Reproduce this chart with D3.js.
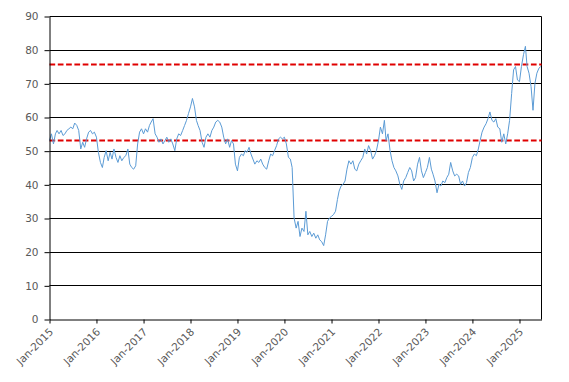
<!DOCTYPE html>
<html>
<head>
<meta charset="utf-8">
<script src="https://cdn.jsdelivr.net/npm/d3@7"></script>
<style>
  body { margin: 0; background: #fff; }
  text { font-family: "DejaVu Sans", Verdana, sans-serif; }
</style>
</head>
<body>
<script>
// half-month readings (1st and 16th of each month)
var v2015 = [53, 55, 52, 55, 56, 55, 56, 54.5, 55, 56, 56.5, 57, 56.5, 58.2, 57.5, 56, 50.5, 52.5, 51, 53.5, 55.5, 56, 55, 55.5];
var v2016 = [54, 49.5, 46.5, 45, 48, 50, 47, 49.5, 47.5, 50.5, 48, 46.5, 48.5, 47, 48, 48.5, 50.5, 46, 45, 44.5, 45.5, 52, 55.5, 56.5];
var v2017 = [55, 56.5, 55.5, 57.5, 58.5, 59.5, 55, 54, 52.5, 53.5, 52, 53, 54, 52.5, 53.5, 52, 50, 53.5, 55, 54.5, 56, 57.5, 59, 61];
var v2018 = [63, 65.5, 63, 59, 57.5, 56, 52.5, 51, 54, 55, 54, 56, 57, 58.5, 59, 58.5, 57, 54, 52, 53.5, 51, 53, 52, 46];
var v2019 = [44, 48, 49, 48.5, 50, 49.5, 51, 49, 47.5, 46, 47, 46.5, 47.5, 46, 45, 44.5, 47, 49, 48.5, 50, 51.5, 53.5, 54, 53.5];
var v2020 = [54, 52, 48, 47.5, 45, 30, 27, 29, 24.5, 27, 26, 32, 25, 26, 24.5, 25.5, 24, 25, 23.5, 23, 21.8, 25, 29, 30];
var v2021 = [30.5, 31, 32, 35.5, 38, 39.5, 40, 41, 44.5, 47, 46, 47, 44.5, 44, 46, 47, 48, 50.5, 49, 51.5, 50, 47.5, 48.5, 50];
var v2022 = [53, 57, 55, 59, 53, 55, 50, 47, 45, 44, 42.5, 40, 38.5, 41, 42, 43.5, 45, 44, 41, 42, 46, 48, 44, 42];
var v2023 = [43.5, 45, 48, 44.5, 43, 41, 37.5, 40, 39.5, 41, 40.5, 42, 43, 46.5, 44, 42.5, 43, 42.5, 40, 41, 39.5, 40.5, 43.5, 45];
var v2024 = [48, 49, 48.5, 50.5, 53, 55.5, 57, 58, 59.5, 61.5, 59, 58.5, 59.5, 57, 56.5, 52.5, 55, 52, 55, 59, 67, 74, 75, 71];
var v2025 = [70.5, 75, 78.5, 81, 75, 73, 69, 62, 70, 73, 74.5, 75];

var years = [2015, 2016, 2017, 2018, 2019, 2020, 2021, 2022, 2023, 2024, 2025];
var yearValues = [v2015, v2016, v2017, v2018, v2019, v2020, v2021, v2022, v2023, v2024, v2025];
var sampleDays = [1, 16];

var refLines = [75.6, 53.0];
var yTicks = [0, 10, 20, 30, 40, 50, 60, 70, 80, 90];
var xTicks = ["2015-01-01", "2016-01-01", "2017-01-01", "2018-01-01", "2019-01-01", "2020-01-01",
              "2021-01-01", "2022-01-01", "2023-01-01", "2024-01-01", "2025-01-01"];
var xStart = "2015-01-01", xEnd = "2025-06-21";

var parse = d3.timeParse("%Y-%m-%d");
var data = [];
years.forEach(function(yr, k) {
    yearValues[k].forEach(function(v, i) {
        data.push({ date: new Date(yr, Math.floor(i / 2), sampleDays[i % 2]), value: v });
    });
});

var W = 569, H = 382;
var x0 = 49.5, x1 = 541.5, yTop = 16, yBot = 319;

var svg = d3.select("body").append("svg")
    .attr("width", W)
    .attr("height", H);

var x = d3.scaleTime().domain([parse(xStart), parse(xEnd)]).range([x0, x1]);
var y = d3.scaleLinear().domain([0, 90]).range([yBot, yTop]);

// gridlines
svg.append("g").selectAll("line")
    .data(yTicks.slice(1))
    .enter().append("line")
    .attr("x1", x0).attr("x2", x1)
    .attr("y1", function(d) { return Math.round(y(d)) + 0.5; })
    .attr("y2", function(d) { return Math.round(y(d)) + 0.5; })
    .attr("stroke", "#000")
    .attr("stroke-width", 1);

// right border
svg.append("line")
    .attr("x1", x1).attr("x2", x1)
    .attr("y1", Math.round(yTop) + 0.5).attr("y2", yBot + 0.5)
    .attr("stroke", "#000");

// reference lines
svg.append("g").selectAll("line")
    .data(refLines)
    .enter().append("line")
    .attr("x1", x0).attr("x2", x1)
    .attr("y1", function(d) { return y(d); })
    .attr("y2", function(d) { return y(d); })
    .attr("stroke", "#e00000")
    .attr("stroke-width", 2)
    .attr("stroke-dasharray", "5.7,2.6");

// series
var line = d3.line()
    .x(function(d) { return x(d.date); })
    .y(function(d) { return y(d.value); });

svg.append("path")
    .datum(data)
    .attr("fill", "none")
    .attr("stroke", "#5b9bd5")
    .attr("stroke-width", 1)
    .attr("stroke-linejoin", "round")
    .attr("d", line);

// y axis
var yAxis = svg.append("g")
    .attr("transform", "translate(" + x0 + ",0.5)")
    .call(d3.axisLeft(y).tickValues(yTicks).tickSize(5).tickSizeOuter(0).tickPadding(6));
yAxis.selectAll("line, path").attr("stroke", "#000");
yAxis.selectAll("text")
    .attr("fill", "#595959")
    .style("font-size", "10.5px");

// x axis
var xAxis = svg.append("g")
    .attr("transform", "translate(0," + (yBot + 0.5) + ")")
    .call(d3.axisBottom(x).tickValues(xTicks.map(parse)).tickSize(4).tickSizeOuter(0)
        .tickFormat(d3.timeFormat("%b-%Y")));
xAxis.selectAll("line, path").attr("stroke", "#000");
xAxis.selectAll("text")
    .attr("fill", "#595959")
    .style("font-size", "10.5px")
    .attr("text-anchor", "end")
    .attr("y", 0)
    .attr("dy", 0)
    .attr("transform", "translate(4,13) rotate(-45)");
</script>
</body>
</html>
